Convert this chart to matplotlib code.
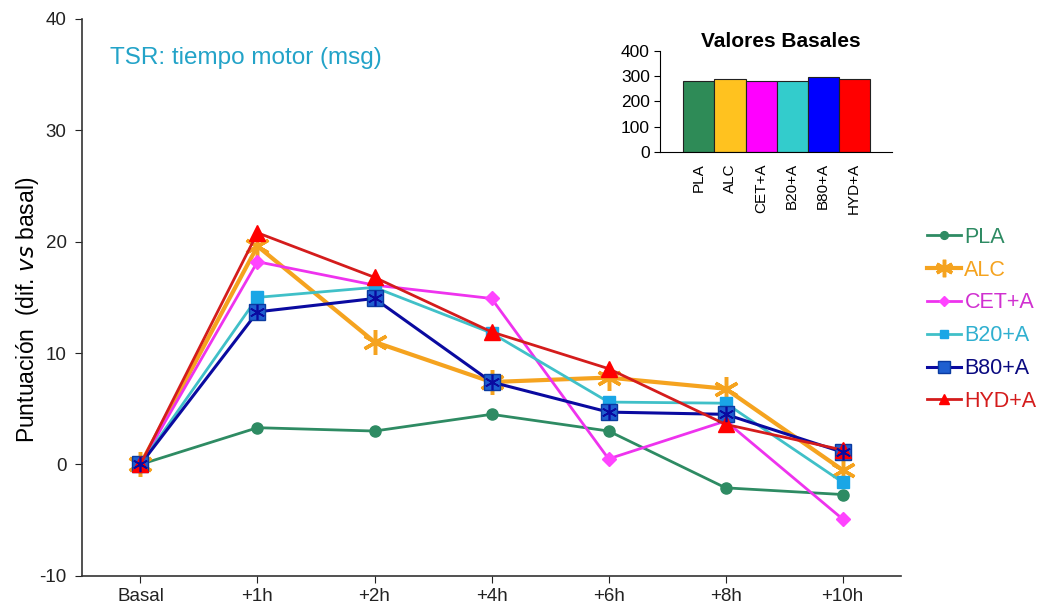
import matplotlib
matplotlib.use("Agg")
import matplotlib.pyplot as plt
import numpy as np

plt.rcParams['font.family'] = ['Liberation Sans', 'DejaVu Sans']
plt.rcParams['axes.unicode_minus'] = False

timepoints = ["Basal", "+1h", "+2h", "+4h", "+6h", "+8h", "+10h"]
PLA = [0, 3.3, 3.0, 4.5, 3.0, -2.1, -2.7]
ALC = [0, 19.6, 11.0, 7.4, 7.8, 6.8, -0.5]
CET = [0, 18.2, 16.1, 14.9, 0.5, 3.9, -4.9]
B20 = [0, 15.0, 15.9, 11.8, 5.6, 5.5, -1.6]
B80 = [0, 13.7, 14.9, 7.4, 4.7, 4.5, 1.1]
HYD = [0, 20.8, 16.8, 11.9, 8.6, 3.6, 1.3]

groups = ["PLA", "ALC", "CET+A", "B20+A", "B80+A", "HYD+A"]
basal_values = [282, 287, 282, 282, 295, 287]

fig = plt.figure(figsize=(10.37, 6.10), dpi=100)
ax = fig.add_axes([0.079, 0.056, 0.790, 0.913])

x = np.arange(len(timepoints))
styles = [
    (PLA, "PLA", dict(color="#2e8b63", marker="o", markersize=8, lw=2, mfc="#2e8b63", mec="#2e8b63"), "#2e8b63"),
    (ALC, "ALC", dict(color="#f5a31f", marker=(6, 2, 0), markersize=18, lw=3, mew=2.5, mec="#f5a31f"), "#f5a31f"),
    (CET, "CET+A", dict(color="#ee33ee", marker="D", markersize=7, lw=2, mfc="#ff44ff", mec="#ff44ff"), "#d030d0"),
    (B20, "B20+A", dict(color="#40c0c8", marker="s", markersize=8, lw=2, mfc="#1aa6e6", mec="#1aa6e6"), "#30b0d0"),
    (B80, "B80+A", dict(color="#0a0aa0", marker="s", markersize=12, lw=2.2, mfc="#1f5fd0", mec="#0a3aa0"), "#0a0a80"),
    (HYD, "HYD+A", dict(color="#d41c1c", marker="^", markersize=11, lw=2, mfc="#ff0000", mec="#ff0000"), "#d41c1c"),
]
handles = []
for data, label, kw, _ in styles:
    h, = ax.plot(x, data, label=label, **kw, zorder=3)
    handles.append(h)
# asterisk overlay on B80 markers
ax.plot(x, B80, linestyle="none", marker=(6, 2, 0), markersize=11, mew=1.2, color="#0a0aa0", zorder=3.5)

ax.set_xlim(-0.5, 6.5)
ax.set_ylim(-10, 40)
ax.set_yticks([-10, 0, 10, 20, 30, 40])
ax.set_xticks(x)
ax.set_xticklabels(timepoints)
ax.tick_params(axis="both", labelsize=13.5, colors="#222222", direction="out", length=5)
ax.tick_params(axis="y", pad=6)
for s in ["top", "right"]:
    ax.spines[s].set_visible(False)
for s in ["left", "bottom"]:
    ax.spines[s].set_linewidth(1.2)
    ax.spines[s].set_color("#333333")

ax.set_ylabel(r"Puntuación  (dif. $\it{vs}$ basal)", fontsize=16.5)
ax.yaxis.set_label_coords(-0.05, 0.478)
ax.text(0.034, 0.93, "TSR: tiempo motor (msg)", transform=ax.transAxes,
        fontsize=17.5, color="#23a3c8", va="center", ha="left")

leg = fig.legend(handles=handles, loc="upper left", bbox_to_anchor=(0.875, 0.66),
                 frameon=False, fontsize=15.5, handlelength=1.6, handletextpad=0.15,
                 labelspacing=0.55, markerscale=0.7)
for txt, (_, _, _, tc) in zip(leg.get_texts(), styles):
    txt.set_color(tc)

# inset
ins = fig.add_axes([0.636, 0.751, 0.224, 0.166])
colors = ["#2e8b57", "#ffc21f", "#ff00ff", "#33cccc", "#0000ff", "#ff0000"]
ins.bar(np.arange(len(groups)), basal_values, width=1.0, color=colors, edgecolor="#222222", linewidth=0.8)
ins.set_xlim(-1.27, 6.21)
ins.set_ylim(0, 400)
ins.set_yticks([0, 100, 200, 300, 400])
ins.set_xticks(np.arange(len(groups)))
ins.set_xticklabels(groups, rotation=90)
ins.tick_params(axis="x", length=0, labelsize=11, pad=8)
ins.tick_params(axis="y", labelsize=12.5, length=4, direction="out", pad=3)
for s in ["top", "right"]:
    ins.spines[s].set_visible(False)
ins.patch.set_alpha(0)
ins.set_title("Valores Basales", fontsize=15, fontweight="bold", pad=1, x=0.52)

fig.savefig("out.png", dpi=100)
